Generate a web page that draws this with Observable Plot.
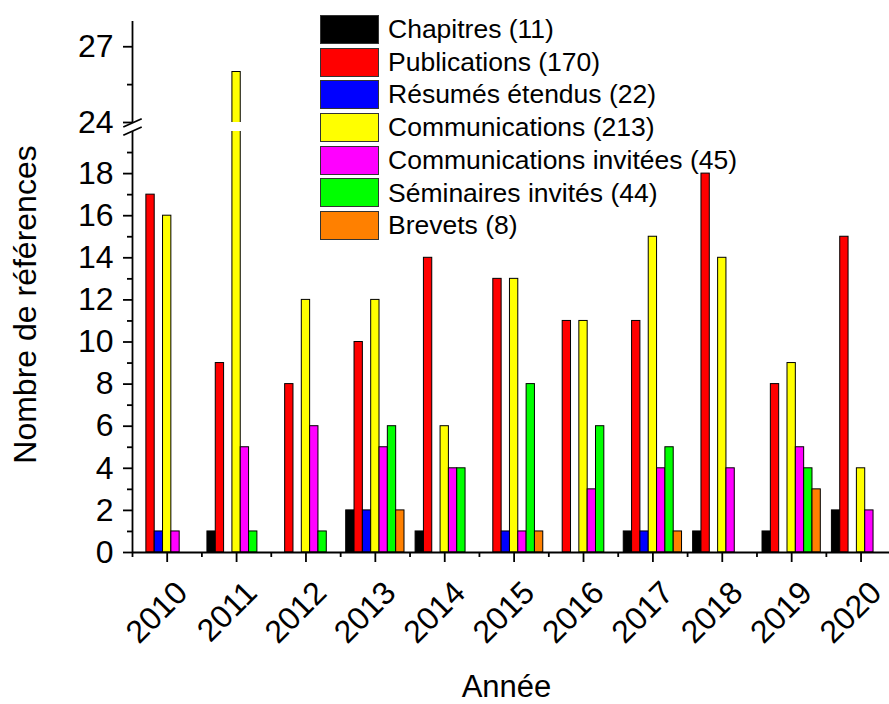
<!DOCTYPE html>
<html>
<head>
<meta charset="utf-8">
<script src="https://cdn.jsdelivr.net/npm/d3@7"></script>
<script src="https://cdn.jsdelivr.net/npm/@observablehq/plot@0.6"></script>
<style>
  html, body { margin: 0; padding: 0; background: #fff; overflow: hidden; }
  #wrap { position: relative; width: 889px; height: 704px; font-family: "Liberation Sans", Arial, sans-serif; }
  #legend { position: absolute; left: 320px; top: 13px; }
  .row { display: flex; align-items: center; height: 32.7px; }
  .sw { width: 57px; height: 27px; border: 1px solid #333; margin-right: 9px; }
  .lab { font-size: 26.5px; color: #000; white-space: nowrap; line-height: 1; }
</style>
</head>
<body>
<div id="wrap"><div id="legend"></div></div>
<script>
// ---- data ----
const years = [2010, 2011, 2012, 2013, 2014, 2015, 2016, 2017, 2018, 2019, 2020];
const seriesNames = ["Chapitres", "Publications", "Résumés étendus", "Communications", "Communications invitées", "Séminaires invités", "Brevets"];
const seriesTotals = [11, 170, 22, 213, 45, 44, 8];
const seriesColors = ["#000000", "#ff0000", "#0000ff", "#ffff00", "#ff00ff", "#00ff00", "#ff8000"];
const chapitres      = [0, 1, 0, 2, 1, 0, 0, 1, 1, 1, 2];
const publications   = [17, 9, 8, 10, 14, 13, 11, 11, 18, 8, 15];
const resumes        = [1, 0, 0, 2, 0, 1, 0, 1, 0, 0, 0];
const communications = [16, 26, 12, 12, 6, 13, 11, 15, 14, 9, 4];
const commInvitees   = [1, 5, 6, 5, 4, 1, 3, 4, 4, 5, 2];
const seminaires     = [0, 1, 1, 6, 4, 8, 6, 5, 0, 4, 0];
const brevets        = [0, 0, 0, 2, 0, 1, 0, 1, 0, 3, 0];
const yMajorTicks = [0, 2, 4, 6, 8, 10, 12, 14, 16, 18, 24, 27];
const yMinorTicks = [1, 3, 5, 7, 9, 11, 13, 15, 17, 19, 25.5];
const xMinorTicks = [2009.5, 2010.5, 2011.5, 2012.5, 2013.5, 2014.5, 2015.5, 2016.5, 2017.5, 2018.5, 2019.5];
const yBreak = [20, 24];   // axis break between lower and upper segments
const yTop = 28;

// ---- table ----
const seriesValues = [chapitres, publications, resumes, communications, commInvitees, seminaires, brevets];
const rows = [];
seriesValues.forEach((vals, si) => {
  vals.forEach((v, yi) => { if (v > 0) rows.push({year: years[yi], series: seriesNames[si], idx: si, value: v}); });
});

const barW = 0.12; // in year units
const groupHalf = barW * seriesNames.length / 2;

// custom symbol for the "//" break marks
const breakSymbol = {
  draw(ctx) {
    ctx.moveTo(-9.2, 8.3); ctx.lineTo(9.2, 0);
    ctx.moveTo(-9.2, 0); ctx.lineTo(9.2, -8.3);
  }
};

const font = "'Liberation Sans', Arial, sans-serif";

const chart = Plot.plot({
  width: 889,
  height: 704,
  marginLeft: 132,
  marginRight: 0,
  marginTop: 21,
  marginBottom: 152,
  style: {fontFamily: font, fontSize: "31px", color: "#000", background: "#fff", overflow: "hidden"},
  x: {type: "linear", domain: [2009.5, 2020.41], axis: null},
  y: {type: "linear", domain: [0, yBreak[0], yBreak[1], yTop], range: [552, 131, 122, 21], axis: null},
  color: {type: "ordinal", domain: seriesNames, range: seriesColors},
  marks: [
    Plot.rectY(rows, {
      x1: d => d.year - groupHalf + d.idx * barW,
      x2: d => d.year - groupHalf + (d.idx + 1) * barW,
      y: "value",
      fill: "series",
      stroke: "#000",
      strokeWidth: 1
    }),
    // white gap of the broken axis
    Plot.rect([yBreak], {y1: d => d[0], y2: d => d[1], fill: "#fff"}),
    // axis lines
    Plot.ruleY([0], {stroke: "#000", strokeWidth: 1.8}),
    Plot.ruleX([[0, yBreak[0]], [yBreak[1], yTop]], {x: () => 2009.5, y1: d => d[0], y2: d => d[1], stroke: "#000", strokeWidth: 1.8}),
    Plot.dot([(yBreak[0] + yBreak[1]) / 2], {x: () => 2009.5, y: d => d, symbol: breakSymbol, fill: "none", stroke: "#000", strokeWidth: 1.8}),
    // y ticks
    Plot.axisY({ticks: yMajorTicks, label: null, tickSize: 9, tickPadding: 10, strokeWidth: 1.8, fontSize: 32, tickFormat: d => String(d)}),
    Plot.axisY({ticks: yMinorTicks, label: null, tickSize: 5, strokeWidth: 1.8, tickFormat: () => ""}),
    // x ticks
    Plot.axisX({ticks: years, label: null, tickSize: 10, strokeWidth: 1.8, tickFormat: () => ""}),
    Plot.axisX({ticks: xMinorTicks, label: null, tickSize: 5, strokeWidth: 1.8, tickFormat: () => ""}),
    // x tick labels (rotated)
    Plot.text(years, {x: d => d, text: d => String(d), frameAnchor: "bottom", rotate: -45, textAnchor: "end", lineAnchor: "middle", dx: 15, dy: 35, fontSize: 32, fill: "#000"}),
    // axis titles
    Plot.text(["Nombre de références"], {frameAnchor: "left", textAnchor: "middle", rotate: -90, lineAnchor: "bottom", dx: -97, dy: 17.5, fontSize: 32, fill: "#000"}),
    Plot.text(["Année"], {frameAnchor: "bottom", textAnchor: "middle", lineAnchor: "bottom", dx: -4.5, dy: 144, fontSize: 31, fill: "#000"})
  ]
});

const wrap = document.getElementById("wrap");
wrap.insertBefore(chart, wrap.firstChild);

// legend
const legend = d3.select("#legend");
seriesNames.forEach((name, i) => {
  const row = legend.append("div").attr("class", "row");
  row.append("div").attr("class", "sw").style("background", seriesColors[i]);
  row.append("div").attr("class", "lab").text(`${name} (${seriesTotals[i]})`);
});
</script>
</body>
</html>
